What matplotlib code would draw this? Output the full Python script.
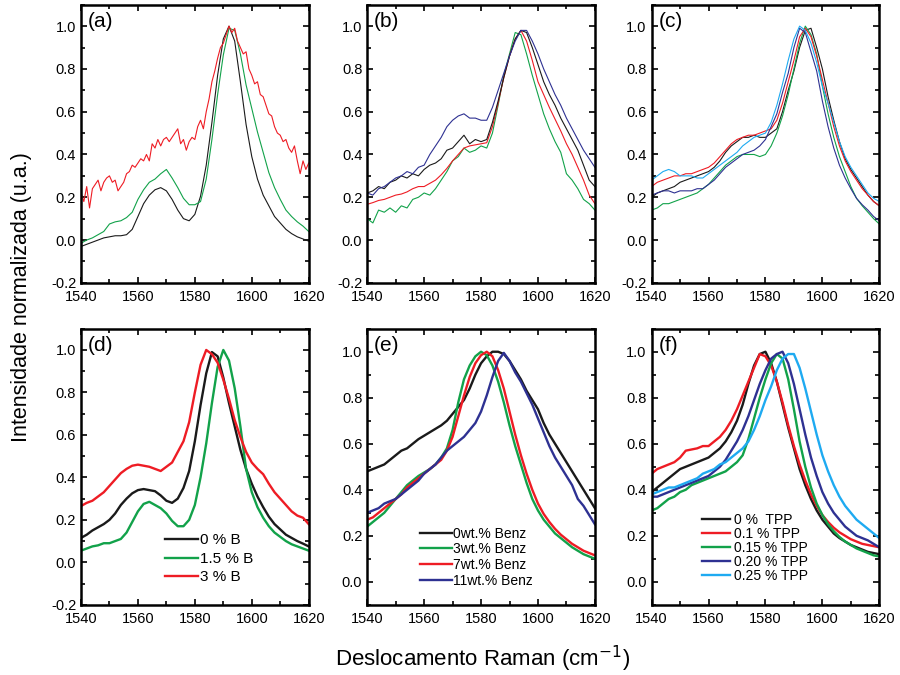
import numpy as np
import matplotlib
matplotlib.use('Agg')
import matplotlib.pyplot as plt
from matplotlib.ticker import MultipleLocator, FormatStrFormatter

plt.rcParams['font.family'] = ['Liberation Sans', 'DejaVu Sans']

# eixo x (deslocamento Raman, cm-1)
wn = np.arange(1540, 1621, 2)
wn1 = np.arange(1540, 1621, 1)

# (a)
a_black = [-0.03, -0.02, -0.01, 0.0, 0.01, 0.015, 0.02, 0.02, 0.025, 0.05,
           0.11, 0.17, 0.21, 0.235, 0.245, 0.23, 0.19, 0.14, 0.10, 0.09,
           0.12, 0.205, 0.35, 0.55, 0.77, 0.94, 1.0, 0.93, 0.74, 0.54,
           0.39, 0.285, 0.21, 0.16, 0.11, 0.08, 0.05, 0.03, 0.015, 0.005,
           -0.005]
a_green = [-0.015, 0.0, 0.01, 0.025, 0.04, 0.075, 0.085, 0.09, 0.105, 0.13,
           0.19, 0.235, 0.27, 0.285, 0.31, 0.33, 0.29, 0.245, 0.195, 0.165,
           0.165, 0.18, 0.285, 0.47, 0.68, 0.865, 0.99, 0.98, 0.87, 0.725,
           0.615, 0.505, 0.41, 0.315, 0.245, 0.19, 0.14, 0.11, 0.085, 0.065,
           0.04]
a_red = [0.22, 0.18, 0.25, 0.15, 0.24, 0.26, 0.28, 0.23, 0.27, 0.29,
         0.30, 0.27, 0.28, 0.23, 0.25, 0.27, 0.31, 0.32, 0.35, 0.34,
         0.36, 0.38, 0.37, 0.40, 0.37, 0.45, 0.43, 0.47, 0.44, 0.47,
         0.48, 0.46, 0.48, 0.50, 0.52, 0.45, 0.47, 0.42, 0.46, 0.48,
         0.47, 0.53, 0.56, 0.52, 0.60, 0.66, 0.74, 0.79, 0.85, 0.90,
         0.92, 0.96, 1.0, 0.97, 0.99, 0.93, 0.90, 0.87, 0.88, 0.80,
         0.77, 0.73, 0.74, 0.68, 0.67, 0.63, 0.59, 0.58, 0.53, 0.50,
         0.49, 0.46, 0.47, 0.43, 0.41, 0.44, 0.37, 0.31, 0.37, 0.33,
         0.36]

# (b)
b_black = [0.22, 0.23, 0.25, 0.24, 0.27, 0.28, 0.30, 0.29, 0.31, 0.30,
           0.33, 0.35, 0.36, 0.38, 0.42, 0.43, 0.46, 0.49, 0.45, 0.47,
           0.46, 0.47, 0.55, 0.65, 0.76, 0.86, 0.94, 0.98, 0.97, 0.90,
           0.82, 0.74, 0.68, 0.63, 0.57, 0.52, 0.47, 0.42, 0.35, 0.28,
           0.25]
b_green = [0.10, 0.08, 0.14, 0.13, 0.15, 0.13, 0.16, 0.15, 0.19, 0.20,
           0.22, 0.21, 0.24, 0.28, 0.32, 0.37, 0.39, 0.43, 0.41, 0.42,
           0.44, 0.43, 0.50, 0.63, 0.77, 0.87, 0.97, 0.96, 0.87, 0.77,
           0.68, 0.59, 0.52, 0.46, 0.41, 0.31, 0.28, 0.24, 0.19, 0.17,
           0.14]
b_red = [0.167, 0.175, 0.185, 0.19, 0.20, 0.21, 0.215, 0.225, 0.24, 0.25,
         0.25, 0.265, 0.28, 0.305, 0.335, 0.37, 0.40, 0.43, 0.44, 0.445,
         0.45, 0.455, 0.53, 0.64, 0.76, 0.86, 0.94, 0.98, 0.93, 0.84,
         0.74, 0.68, 0.62, 0.565, 0.51, 0.45, 0.40, 0.34, 0.28, 0.21,
         0.17]
b_blue = [0.22, 0.21, 0.24, 0.25, 0.27, 0.29, 0.30, 0.32, 0.31, 0.34,
          0.35, 0.40, 0.44, 0.48, 0.53, 0.56, 0.58, 0.59, 0.57, 0.57,
          0.56, 0.56, 0.62, 0.70, 0.78, 0.86, 0.93, 0.98, 0.98, 0.93,
          0.87, 0.80, 0.74, 0.68, 0.63, 0.57, 0.52, 0.47, 0.42, 0.38,
          0.34]

# (c)
c_black = [0.20, 0.22, 0.23, 0.24, 0.25, 0.27, 0.28, 0.29, 0.30, 0.31,
           0.32, 0.34, 0.37, 0.41, 0.44, 0.46, 0.48, 0.48, 0.49, 0.48,
           0.48, 0.50, 0.52, 0.60, 0.70, 0.79, 0.90, 0.98, 0.99, 0.90,
           0.80, 0.67, 0.56, 0.46, 0.38, 0.33, 0.29, 0.25, 0.21, 0.18,
           0.16]
c_red = [0.25, 0.27, 0.28, 0.29, 0.30, 0.30, 0.31, 0.31, 0.32, 0.33,
         0.34, 0.36, 0.39, 0.42, 0.45, 0.47, 0.48, 0.49, 0.49, 0.50,
         0.51, 0.52, 0.56, 0.64, 0.74, 0.84, 0.95, 0.99, 0.95, 0.86,
         0.75, 0.64, 0.53, 0.44, 0.37, 0.32, 0.28, 0.24, 0.21, 0.18,
         0.16]
c_green = [0.14, 0.15, 0.17, 0.17, 0.18, 0.19, 0.20, 0.21, 0.22, 0.24,
           0.26, 0.29, 0.32, 0.35, 0.37, 0.39, 0.40, 0.40, 0.40, 0.39,
           0.40, 0.44, 0.50, 0.58, 0.68, 0.80, 0.92, 1.0, 0.96, 0.87,
           0.72, 0.59, 0.48, 0.39, 0.32, 0.25, 0.195, 0.16, 0.13, 0.10,
           0.075]
c_blue = [0.21, 0.22, 0.23, 0.23, 0.22, 0.23, 0.23, 0.23, 0.24, 0.24,
          0.26, 0.28, 0.31, 0.34, 0.36, 0.38, 0.40, 0.41, 0.42, 0.44,
          0.47, 0.53, 0.59, 0.69, 0.78, 0.90, 0.99, 0.97, 0.88, 0.79,
          0.65, 0.53, 0.43, 0.35, 0.29, 0.24, 0.195, 0.165, 0.14, 0.11,
          0.09]
c_cyan = [0.28, 0.30, 0.32, 0.33, 0.32, 0.30, 0.30, 0.30, 0.29, 0.29,
          0.31, 0.33, 0.35, 0.37, 0.39, 0.41, 0.44, 0.46, 0.48, 0.49,
          0.50, 0.55, 0.63, 0.73, 0.84, 0.94, 1.0, 0.98, 0.92, 0.83,
          0.72, 0.64, 0.55, 0.46, 0.39, 0.34, 0.30, 0.26, 0.22, 0.195,
          0.18]

# (d)
d_black = [0.115, 0.13, 0.15, 0.165, 0.18, 0.20, 0.23, 0.27, 0.30, 0.325,
           0.34, 0.345, 0.34, 0.335, 0.315, 0.29, 0.28, 0.30, 0.35, 0.43,
           0.57, 0.74, 0.89, 0.99, 0.97, 0.87, 0.75, 0.64, 0.53, 0.44,
           0.37, 0.31, 0.26, 0.215, 0.18, 0.155, 0.13, 0.115, 0.10, 0.088,
           0.075]
d_green = [0.055, 0.065, 0.075, 0.08, 0.09, 0.09, 0.10, 0.11, 0.14, 0.19,
           0.24, 0.275, 0.285, 0.27, 0.255, 0.23, 0.195, 0.17, 0.17, 0.20,
           0.27, 0.40, 0.56, 0.75, 0.92, 1.0, 0.95, 0.82, 0.64, 0.44,
           0.33, 0.26, 0.21, 0.17, 0.14, 0.12, 0.10, 0.085, 0.075, 0.065,
           0.055]
d_red = [0.265, 0.28, 0.29, 0.31, 0.33, 0.36, 0.39, 0.42, 0.44, 0.455,
         0.46, 0.455, 0.45, 0.44, 0.43, 0.45, 0.47, 0.52, 0.57, 0.66,
         0.80, 0.93, 1.0, 0.98, 0.94, 0.86, 0.77, 0.67, 0.59, 0.52,
         0.47, 0.44, 0.415, 0.37, 0.33, 0.30, 0.27, 0.24, 0.22, 0.21,
         0.18]

# (e)
e_black = [0.48, 0.49, 0.50, 0.51, 0.53, 0.55, 0.57, 0.58, 0.60, 0.62,
           0.635, 0.65, 0.665, 0.68, 0.70, 0.73, 0.76, 0.79, 0.84, 0.90,
           0.95, 0.98, 1.0, 1.0, 0.99, 0.96, 0.92, 0.88, 0.83, 0.79,
           0.75, 0.69, 0.64, 0.60, 0.56, 0.52, 0.48, 0.44, 0.40, 0.36,
           0.32]
e_green = [0.24, 0.26, 0.28, 0.30, 0.33, 0.36, 0.39, 0.42, 0.44, 0.46,
           0.475, 0.49, 0.51, 0.54, 0.58, 0.66, 0.78, 0.88, 0.94, 0.98,
           1.0, 0.985, 0.94, 0.87, 0.78, 0.68, 0.59, 0.51, 0.43, 0.36,
           0.31, 0.27, 0.24, 0.21, 0.19, 0.17, 0.15, 0.135, 0.12, 0.11,
           0.10]
e_red = [0.27, 0.28, 0.30, 0.32, 0.34, 0.36, 0.38, 0.41, 0.43, 0.45,
         0.47, 0.49, 0.51, 0.53, 0.57, 0.63, 0.72, 0.81, 0.89, 0.95,
         0.985, 1.0, 0.98, 0.92, 0.84, 0.74, 0.64, 0.55, 0.47, 0.40,
         0.34, 0.295, 0.26, 0.23, 0.205, 0.185, 0.165, 0.15, 0.135, 0.125,
         0.115]
e_blue = [0.30, 0.31, 0.32, 0.34, 0.35, 0.36, 0.38, 0.40, 0.42, 0.44,
          0.47, 0.49, 0.51, 0.54, 0.57, 0.59, 0.61, 0.63, 0.66, 0.69,
          0.74, 0.81, 0.89, 0.96, 0.995, 0.96, 0.91, 0.87, 0.82, 0.77,
          0.71, 0.65, 0.59, 0.54, 0.50, 0.46, 0.42, 0.36, 0.33, 0.29,
          0.25]

# (f)
f_black = [0.39, 0.41, 0.43, 0.45, 0.47, 0.49, 0.50, 0.51, 0.52, 0.53,
           0.54, 0.56, 0.58, 0.61, 0.65, 0.70, 0.77, 0.86, 0.94, 0.99,
           1.0, 0.95, 0.87, 0.77, 0.67, 0.58, 0.49, 0.42, 0.36, 0.31,
           0.27, 0.24, 0.21, 0.19, 0.175, 0.16, 0.15, 0.14, 0.13, 0.125,
           0.12]
f_red = [0.47, 0.49, 0.50, 0.51, 0.52, 0.54, 0.57, 0.575, 0.58, 0.59,
         0.59, 0.61, 0.63, 0.66, 0.70, 0.75, 0.81, 0.87, 0.93, 0.99,
         0.98, 0.94, 0.87, 0.78, 0.68, 0.59, 0.51, 0.44, 0.38, 0.33,
         0.29, 0.26, 0.235, 0.215, 0.20, 0.185, 0.175, 0.165, 0.16, 0.155,
         0.15]
f_green = [0.31, 0.32, 0.34, 0.36, 0.37, 0.39, 0.40, 0.42, 0.43, 0.44,
           0.45, 0.46, 0.47, 0.48, 0.50, 0.52, 0.55, 0.62, 0.71, 0.80,
           0.88, 0.95, 0.99, 0.97, 0.88, 0.75, 0.61, 0.50, 0.41, 0.34,
           0.29, 0.25, 0.22, 0.195, 0.175, 0.16, 0.145, 0.135, 0.125, 0.115,
           0.11]
f_blue = [0.37, 0.37, 0.38, 0.39, 0.40, 0.41, 0.42, 0.43, 0.44, 0.45,
          0.46, 0.48, 0.50, 0.53, 0.57, 0.61, 0.66, 0.72, 0.79, 0.86,
          0.92, 0.97, 0.99, 1.0, 0.95, 0.86, 0.75, 0.64, 0.54, 0.46,
          0.39, 0.34, 0.30, 0.27, 0.24, 0.22, 0.20, 0.19, 0.18, 0.165,
          0.15]
f_cyan = [0.38, 0.39, 0.40, 0.41, 0.41, 0.42, 0.43, 0.44, 0.45, 0.47,
          0.48, 0.49, 0.51, 0.52, 0.54, 0.56, 0.58, 0.61, 0.66, 0.72,
          0.79, 0.85, 0.92, 0.97, 0.99, 0.99, 0.93, 0.84, 0.74, 0.64,
          0.55, 0.48, 0.42, 0.37, 0.33, 0.30, 0.27, 0.25, 0.23, 0.21,
          0.19]

leg_d = ['0 % B', '1.5 % B', '3 % B']
leg_e = ['0wt.% Benz', '3wt.% Benz', '7wt.% Benz', '11wt.% Benz']
leg_f = ['0 %  TPP', '0.1 % TPP', '0.15 % TPP', '0.20 % TPP', '0.25 % TPP']

# cores
preto = '#1a1a1a'
verm = '#ee1c24'
verde = '#12a24a'
azul = '#2e3192'
ciano = '#1eaaf1'

fig = plt.figure(figsize=(9, 6.75), dpi=100)

# posicoes dos paineis (fracao da figura)
lefts = [0.090, 0.408, 0.724]
w = 0.253
top_b, top_h = 0.581, 0.412
bot_b, bot_h = 0.104, 0.409

axs = []
for row in range(2):
    for col in range(3):
        b = top_b if row == 0 else bot_b
        h = top_h if row == 0 else bot_h
        axs.append(fig.add_axes([lefts[col], b, w, h]))


def estilo(ax, ymin, letra):
    ax.set_xlim(1540, 1620)
    ax.set_ylim(ymin, 1.1)
    ax.xaxis.set_major_locator(MultipleLocator(20))
    ax.xaxis.set_minor_locator(MultipleLocator(10))
    ax.set_yticks(np.arange(0.0 if ymin > -0.15 else -0.2, 1.01, 0.2))
    ax.yaxis.set_minor_locator(MultipleLocator(0.1))
    ax.yaxis.set_major_formatter(FormatStrFormatter('%.1f'))
    for s in ax.spines.values():
        s.set_linewidth(1.8)
    ax.tick_params(axis='y', which='both', left=True, right=True,
                   direction='in', labelsize=10.5, width=1.2)
    ax.tick_params(axis='y', which='major', length=4)
    ax.tick_params(axis='y', which='minor', length=3)
    ax.tick_params(axis='x', which='both', bottom=True, top=True,
                   direction='in', labelsize=10.5, width=1.2, pad=5)
    ax.tick_params(axis='x', which='major', length=4)
    ax.tick_params(axis='x', which='minor', length=3)
    ax.text(0.03, 0.975, letra, transform=ax.transAxes, va='top',
            ha='left', fontsize=15)


lw1 = 0.8
ax = axs[0]
ax.plot(wn, a_black, color=preto, lw=lw1)
ax.plot(wn, a_green, color=verde, lw=lw1)
ax.plot(wn1, a_red, color=verm, lw=lw1)
estilo(ax, -0.2, '(a)')

ax = axs[1]
ax.plot(wn, b_green, color=verde, lw=lw1)
ax.plot(wn, b_red, color=verm, lw=lw1)
ax.plot(wn, b_black, color=preto, lw=lw1)
ax.plot(wn, b_blue, color=azul, lw=lw1)
estilo(ax, -0.2, '(b)')

ax = axs[2]
ax.plot(wn, c_black, color=preto, lw=lw1)
ax.plot(wn, c_green, color=verde, lw=lw1)
ax.plot(wn, c_red, color=verm, lw=lw1)
ax.plot(wn, c_blue, color=azul, lw=lw1)
ax.plot(wn, c_cyan, color=ciano, lw=lw1)
estilo(ax, -0.2, '(c)')

lw2 = 1.7
ax = axs[3]
ax.plot(wn, d_black, color=preto, lw=lw2, label=leg_d[0])
ax.plot(wn, d_green, color=verde, lw=lw2, label=leg_d[1])
ax.plot(wn, d_red, color=verm, lw=lw2, label=leg_d[2])
estilo(ax, -0.2, '(d)')
ax.legend(loc='lower left', bbox_to_anchor=(0.32, 0.035), frameon=False,
          fontsize=11, handlelength=2.2, handletextpad=0.15,
          labelspacing=0.3, borderpad=0.2)

ax = axs[4]
ax.plot(wn, e_black, color=preto, lw=lw2, label=leg_e[0])
ax.plot(wn, e_green, color=verde, lw=lw2, label=leg_e[1])
ax.plot(wn, e_red, color=verm, lw=lw2, label=leg_e[2])
ax.plot(wn, e_blue, color=azul, lw=lw2, label=leg_e[3])
estilo(ax, -0.1, '(e)')
ax.legend(loc='lower left', bbox_to_anchor=(0.19, 0.027), frameon=False,
          fontsize=10, handlelength=2.3, handletextpad=0.05,
          labelspacing=0.12, borderpad=0.2)

ax = axs[5]
ax.plot(wn, f_black, color=preto, lw=lw2, label=leg_f[0])
ax.plot(wn, f_red, color=verm, lw=lw2, label=leg_f[1])
ax.plot(wn, f_green, color=verde, lw=lw2, label=leg_f[2])
ax.plot(wn, f_blue, color=azul, lw=lw2, label=leg_f[3])
ax.plot(wn, f_cyan, color=ciano, lw=lw2, label=leg_f[4])
estilo(ax, -0.1, '(f)')
ax.legend(loc='lower left', bbox_to_anchor=(0.18, 0.045), frameon=False,
          fontsize=10, handlelength=2.0, handletextpad=0.3,
          labelspacing=0.0, borderpad=0.2)

fig.text(0.024, 0.56, 'Intensidade normalizada (u.a.)', rotation=90,
         va='center', ha='center', fontsize=15.5)
fig.text(0.536, 0.024, 'Deslocamento Raman (cm$^{-1}$)', va='center',
         ha='center', fontsize=16)

fig.savefig('out.png', dpi=100)
